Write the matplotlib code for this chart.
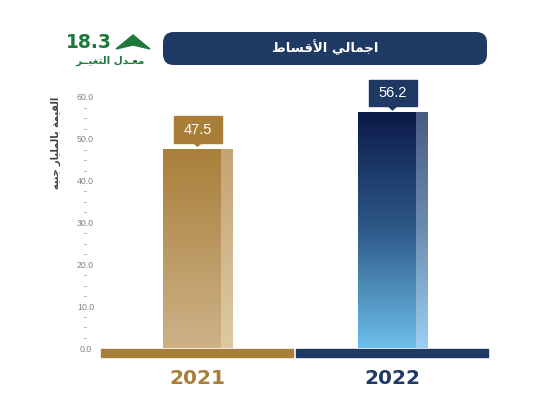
import numpy as np
import matplotlib
matplotlib.use("Agg")
import matplotlib.pyplot as plt
from matplotlib import transforms
from matplotlib.patches import Rectangle, Polygon, FancyBboxPatch
from matplotlib.colors import LinearSegmentedColormap

# ---------------- data ----------------
years = ["2021", "2022"]
values = [47.5, 56.2]
change_value = "18.3"
y_ticks = [0, 10, 20, 30, 40, 50, 60]
y_tick_labels = ["0.0", "10.0", "20.0", "30.0", "40.0", "50.0", "60.0"]

# Arabic texts (pre-shaped presentation forms, visual order)
title_text = "\uFEC1\uFE8E\uFEB4\uFED7\uFEF7\uFE8D \uFEF2\uFEDF\uFE8E\uFEE4\uFE9F\uFE8D"   # اجمالي الأقساط
change_label = "\uFEAE\u0640\u0640\uFEF4\uFED0\uFE98\uFEDF\uFE8D \uFEDD\uFEAA\u0640\uFECC\uFEE3"  # معدل التغير
ylabel_text = ("\uFEEA\uFEF4\uFEE8\uFE9F \uFEAD\uFE8E\uFEF4\uFEE0\uFEE4\uFEDF\uFE8E\uFE91 "
               "\uFE94\uFEE4\uFEF4\uFED8\uFEDF\uFE8D")  # القيمة بالمليار جنيه

# ---------------- styles ----------------
gold = "#a87e38"
navy = "#1f3864"
green = "#1e7a3c"
bar_cmaps = [
    (["#a97f3a", "#cdb288"], ["#c4a473", "#dccaa5"]),
    (["#0b1a48", "#2e5a8a", "#6cbfe9"], ["#4a5b84", "#6c8db0", "#9ccff0"]),
]
label_colors = [gold, navy]

W, H = 533, 395
fig = plt.figure(figsize=(W / 100, H / 100), dpi=100)
fig.patch.set_facecolor("white")

# axes: x from 100px to 490px, y from 348px (0) to 97px (60)
ax = fig.add_axes([100 / W, (H - 348) / H, 390 / W, (348 - 97) / H])
ax.set_xlim(-0.5, 1.5)
ax.set_ylim(0, 60)
for s in ax.spines.values():
    s.set_visible(False)
ax.set_xticks([])

ax.set_yticks(y_ticks)
ax.set_yticklabels(y_tick_labels)
ax.set_yticks([t + d for t in y_ticks[:-1] for d in (2.5, 5, 7.5)], minor=True)
ax.set_yticklabels(["-"] * 18, minor=True)
ax.tick_params(axis="y", which="both", length=0, pad=10.5, labelsize=6.3,
               labelcolor="#808080")
for lab in ax.get_yticklabels() + ax.get_yticklabels(minor=True):
    lab.set_horizontalalignment("center")
    lab.set_fontfamily("Liberation Sans")

bar_w = 70 / 195
strip_w = 12 / 195
for i, v in enumerate(values):
    main_c, strip_c = bar_cmaps[i]
    cm_main = LinearSegmentedColormap.from_list("m%d" % i, main_c)
    cm_strip = LinearSegmentedColormap.from_list("s%d" % i, strip_c)
    grad = np.linspace(0, 1, 256).reshape(-1, 1)
    x0 = i - bar_w / 2
    x1 = i + bar_w / 2
    ax.imshow(grad, cmap=cm_main, aspect="auto", origin="upper",
              extent=[x0, x1 - strip_w, 0, v], interpolation="bilinear", zorder=2)
    ax.imshow(grad, cmap=cm_strip, aspect="auto", origin="upper",
              extent=[x1 - strip_w, x1, 0, v], interpolation="bilinear", zorder=2)

    # base band
    ax.add_patch(Rectangle((i - 0.495, -2.2), 0.985, 1.9, color=label_colors[i],
                           clip_on=False, zorder=3))

    # value label box with pointer
    off = fig.dpi_scale_trans + transforms.ScaledTranslation(i, v, ax.transData)
    ax.add_patch(Rectangle((-0.24, 0.065), 0.48, 0.265, transform=off,
                           color=label_colors[i], clip_on=False, zorder=4))
    ax.add_patch(Polygon([(-0.045, 0.07), (0.045, 0.07), (0, 0.03)], closed=True,
                         transform=off, color=label_colors[i], clip_on=False, zorder=4))
    ax.text(0, 0.195, f"{v}", transform=off, ha="center", va="center",
            color="white", fontsize=10.5, family="Liberation Sans", zorder=5)

    # year label
    ax.text(i, -7.3, years[i], ha="center", va="center", fontsize=14.5,
            fontweight="bold", color=label_colors[i], family="DejaVu Sans",
            clip_on=False)

# y label
fig.text(56 / W, 1 - 143 / H, ylabel_text, rotation=90, ha="center", va="center",
         fontsize=7, fontweight="bold", color="#404040", family="DejaVu Sans")

# title box
fig.patches.append(FancyBboxPatch((163 / W, (H - 65) / H), 324 / W, 33 / H,
                                  boxstyle="round,pad=0,rounding_size=0.02",
                                  transform=fig.transFigure, fc="#1f3a64", ec="none",
                                  mutation_aspect=W / H))
fig.text(325 / W, 1 - 47 / H, title_text, ha="center", va="center", color="white",
         fontsize=9.5, fontweight="bold", family="DejaVu Sans")

# change indicator
fig.text(112 / W, 1 - 43 / H, change_value, ha="right", va="center", color=green,
         fontsize=13.5, fontweight="bold", family="DejaVu Sans")
fig.patches.append(Polygon([(116 / W, 1 - 49 / H), (133 / W, 1 - 35 / H),
                            (150 / W, 1 - 49 / H), (133 / W, 1 - 45 / H)],
                           closed=True, transform=fig.transFigure, color=green))
fig.text(145 / W, 1 - 61 / H, change_label, ha="right", va="center", color=green,
         fontsize=7.5, fontweight="bold", family="DejaVu Sans")

fig.savefig("out.png", dpi=100)
